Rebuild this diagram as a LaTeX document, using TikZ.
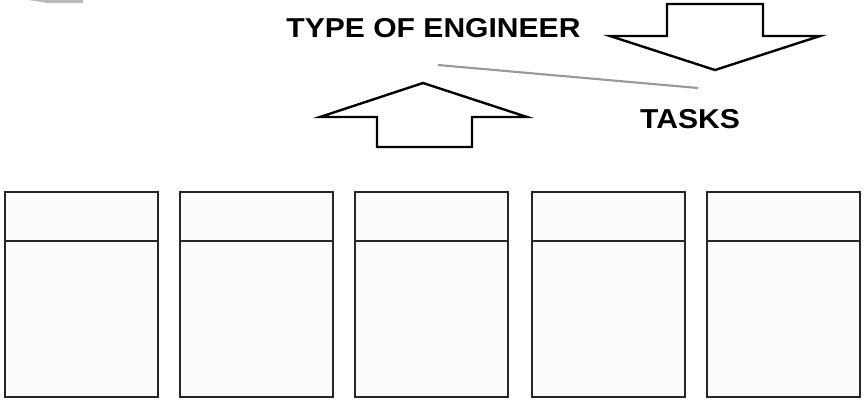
\documentclass[tikz,border=0pt]{standalone}
\usepackage{fontspec}
\setmainfont{Liberation Sans}
\begin{document}
\begin{tikzpicture}[x=0.75pt,y=-0.75pt,
  panel/.style={draw=black!85,line width=1.6pt,fill=black!1},
  bigarrow/.style={draw=black,line width=1.8pt,fill=white,line join=miter},
  label/.style={font=\fontsize{20.5pt}{22pt}\selectfont\bfseries,xscale=1.1,inner sep=0pt,anchor=center}]
\useasboundingbox (0,0) rectangle (868,400);
% gray swoosh top-left
\fill[black!27] (28,0) -- (83,0) -- (83,3) -- (48,3) .. controls (38,2.5) .. (28,0) -- cycle;
% boxes
\foreach \i/\xl in {1/5,2/180,3/355,4/532,5/707}{
  \draw[panel] (\xl,192) rectangle ++(153,205);
  \draw[draw=black!85,line width=1.5pt] (\xl,241) -- ++(153,0);
}
% down arrow (top right)
\draw[bigarrow] (667,4) -- (763,4) -- (763,36) -- (820,36) -- (715,70) -- (610,36) -- (667,36) -- cycle;
% up arrow
\draw[bigarrow] (423,83) -- (527,117) -- (472,117) -- (472,147) -- (377,147) -- (377,117) -- (320,117) -- cycle;
% texts
\node[label] (type) at (433.5,28) {TYPE OF ENGINEER};
\node[label] (tasks) at (690,119) {TASKS};
% gray line
\coordinate (la) at (438,65);
\coordinate (lb) at (698,88);
\draw[black!40,line width=1.6pt] (la) -- (lb);
\end{tikzpicture}
\end{document}
